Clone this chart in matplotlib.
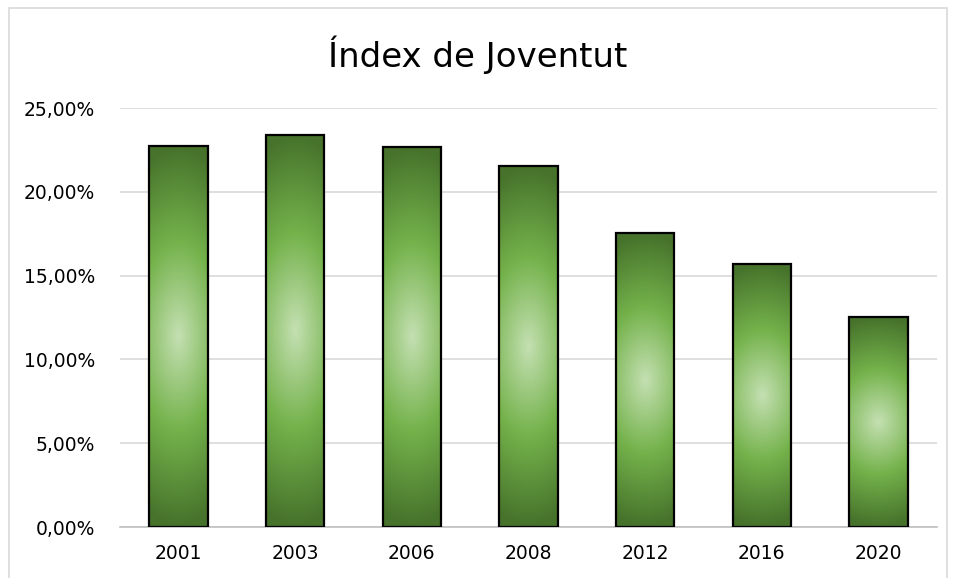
import numpy as np
import matplotlib
matplotlib.use("Agg")
import matplotlib.pyplot as plt
from matplotlib.colors import LinearSegmentedColormap
from matplotlib.ticker import FuncFormatter

years  = ['2001', '2003', '2006', '2008', '2012', '2016', '2020']
values = [22.75, 23.40, 22.68, 21.52, 17.52, 15.70, 12.55]
yticks = [0, 5, 10, 15, 20, 25]
title  = 'Índex de Joventut'

# radial-ish gradient: light centre, dark green top and bottom
cmap = LinearSegmentedColormap.from_list(
    'grn', [(0.0, '#c4e0b2'), (0.5, '#74b24b'), (1.0, '#46722b')])

fig = plt.figure(figsize=(9.56, 5.78), dpi=100)
ax  = fig.add_axes([0.1255, 0.0882, 0.8545, 0.7249])

x    = np.arange(len(years))
bars = ax.bar(x, values, width=0.5, facecolor='none', edgecolor='black',
              linewidth=1.6, zorder=3)

u, v = np.meshgrid(np.linspace(-1, 1, 60), np.linspace(-1, 1, 200))
grad = np.sqrt(0.12 * u ** 2 + v ** 2)
grad = np.clip(grad, 0, 1)

for b in bars:
    x0, y0 = b.get_x(), b.get_y()
    w, h = b.get_width(), b.get_height()
    im = ax.imshow(grad, cmap=cmap, vmin=0, vmax=1, aspect='auto',
                   extent=(x0, x0 + w, y0, y0 + h), origin='lower',
                   zorder=2, interpolation='bilinear')
    im.set_clip_path(b)

ax.set_xlim(-0.5, len(years) - 0.5)
ax.set_ylim(0, 25)
ax.set_xticks(x)
ax.set_xticklabels(years)
ax.set_yticks(yticks)
ax.yaxis.set_major_formatter(FuncFormatter(lambda v, p: f'{v:.2f}'.replace('.', ',') + '%'))
ax.tick_params(axis='y', length=0, labelsize=13.5, colors='black', pad=18)
ax.tick_params(axis='x', length=0, labelsize=13.5, colors='black', pad=12)

ax.grid(axis='y', color='#d9d9d9', linewidth=1.2, zorder=0)
ax.set_axisbelow(True)
for s in ['top', 'right', 'left']:
    ax.spines[s].set_visible(False)
ax.spines['bottom'].set_color('#bfbfbf')
ax.spines['bottom'].set_linewidth(1.2)

fig.text(0.5, 0.905, title, ha='center', va='center', fontsize=24.5)

# light chart border
fig.patches.append(plt.Rectangle((0.009, -0.01), 0.982, 0.996, transform=fig.transFigure,
                                 fill=False, edgecolor='#d9d9d9', linewidth=1.2))

fig.savefig('out.png', dpi=100)
